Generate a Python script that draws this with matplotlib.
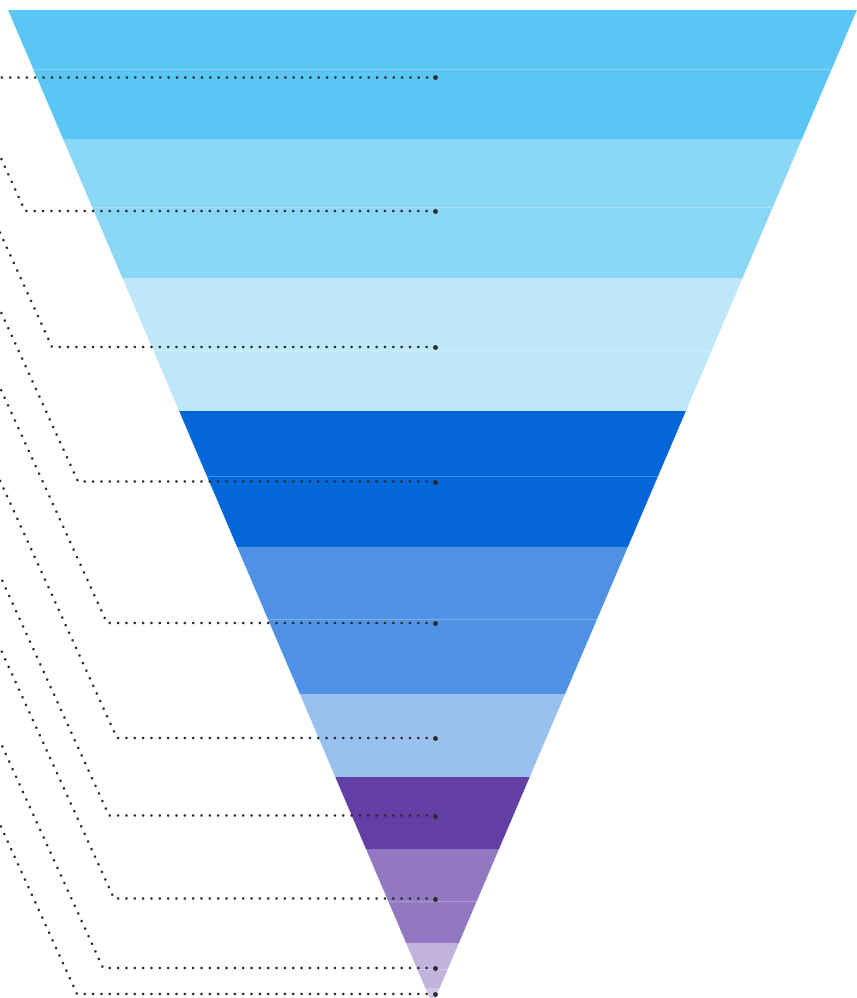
import matplotlib
matplotlib.use("Agg")
import matplotlib.pyplot as plt
from matplotlib.patches import Polygon
import numpy as np

# ---- data (funnel stage values, proportional to stage height) ----
stage_values = [129, 139, 133, 136, 147, 83, 72, 94, 45, 17]
stage_colors = ["#5AC6F4", "#8BD7F6", "#BEE8F9", "#0366D9", "#4F92E5",
                "#99C1F0", "#623EA5", "#9278C1", "#C2B2DE", "#D3C7E8"]
# sub-divisions inside a stage (fraction of stage height where a seam appears)
stage_seams = [0.46, 0.49, 0.54, 0.48, 0.49, None, None, 0.55, 0.58, None]
# x of the elbow of each label leader line (labels sit outside on the left)
leader_elbow_x = [-20, 25, 52, 78, 107, 117, 109, 114, 103, 77]

W, H = 857, 998
fig = plt.figure(figsize=(W / 100, H / 100), dpi=100)
ax = fig.add_axes([0, 0, 1, 1])
ax.set_xlim(0, W)
ax.set_ylim(H, 0)
ax.axis("off")

top_y = 10
cx = 432.5
half_top = 424.5
total = sum(stage_values)
height = 995.0

def half_w(y):
    return half_top * (1 - (y - top_y) / height)

bounds = top_y + np.concatenate([[0], np.cumsum(stage_values)]) / total * height
mids = (bounds[:-1] + bounds[1:]) / 2 + 2.5
mids[-1] = min(mids[-1], 994)

for i, col in enumerate(stage_colors):
    y0, y1 = bounds[i], bounds[i + 1]
    pts = [(cx - half_w(y0), y0), (cx + half_w(y0), y0),
           (cx + half_w(y1), y1), (cx - half_w(y1), y1)]
    ax.add_patch(Polygon(pts, closed=True, facecolor=col, edgecolor="none", zorder=1))
    s = stage_seams[i]
    if s is not None:
        ys = y0 + s * (y1 - y0)
        ax.plot([cx - half_w(ys), cx + half_w(ys)], [ys, ys], color="white",
                alpha=0.25, lw=0.8, zorder=2)

# leader lines
slope = 2.2
end_x = 435
for i, ym in enumerate(mids):
    ex = leader_elbow_x[i]
    dx = ex + 300
    xs = [end_x, ex, ex - dx]
    ys = [ym, ym, ym - dx * slope]
    ax.plot(xs, ys, color="#2a2a2a", lw=1.9, linestyle=(0, (0.01, 3.15)),
            dash_capstyle="round", solid_joinstyle="round", zorder=3)
    ax.plot([end_x], [ym], "o", color="#2a2a2a", ms=2.4, zorder=3)

fig.savefig("out.png", dpi=100)
